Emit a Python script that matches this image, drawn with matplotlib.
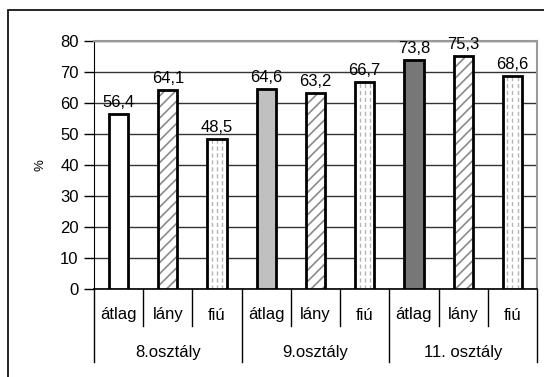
import numpy as np
import matplotlib
matplotlib.use('Agg')
import matplotlib.pyplot as plt
from matplotlib.patches import Rectangle
from matplotlib.lines import Line2D

plt.rcParams['font.family'] = ['Liberation Sans', 'DejaVu Sans']
plt.rcParams['font.size'] = 12
plt.rcParams['hatch.linewidth'] = 1.2

groups = ['8.osztály', '9.osztály', '11. osztály']
subcats = ['átlag', 'lány', 'fiú']
values = [56.4, 64.1, 48.5, 64.6, 63.2, 66.7, 73.8, 75.3, 68.6]
labels = ['56,4', '64,1', '48,5', '64,6', '63,2', '66,7', '73,8', '75,3', '68,6']
avg_colors = ['white', '#c0c0c0', '#777777']

W, H = 544, 377
fig = plt.figure(figsize=(W / 100, H / 100), dpi=100)
ax = fig.add_axes([94 / W, 1 - 289 / H, (537 - 94) / W, (289 - 41) / H])

n = len(values)
x = np.arange(n)
bw = 0.39
for i, v in enumerate(values):
    kind = i % 3
    if kind == 0:
        ax.bar(x[i], v, bw, color=avg_colors[i // 3], edgecolor='black', linewidth=2, zorder=3)
    elif kind == 1:
        ax.bar(x[i], v, bw, color='white', edgecolor='#8a8a8a', hatch='///', linewidth=0, zorder=3)
        ax.bar(x[i], v, bw, fill=False, edgecolor='black', linewidth=2, zorder=4)
    else:
        ax.bar(x[i], v, bw, color='white', linewidth=0, zorder=3)
        # dashed vertical fill pattern
        for off in (-0.27, 0.0, 0.27):
            ax.vlines(x[i] + off * bw, 0, v, colors='#b5b5b5', linestyles=(0, (3, 2)),
                      linewidth=1, zorder=3.5)
        ax.bar(x[i], v, bw, fill=False, edgecolor='black', linewidth=2, zorder=4)
    ax.text(x[i], v + 1.3, labels[i], ha='center', va='bottom', fontsize=12, zorder=5)

ax.set_xlim(-0.5, n - 0.5)
ax.set_ylim(0, 80)
ax.set_yticks(np.arange(0, 81, 10))
ax.tick_params(axis='y', direction='out', length=7, width=1, pad=4, labelsize=12)
ax.set_xticks([])
ax.yaxis.grid(True, color='#333333', linewidth=1)
ax.set_axisbelow(True)
ax.spines['left'].set_color('black')
ax.spines['bottom'].set_color('black')
ax.spines['bottom'].set_linewidth(1.2)
ax.spines['top'].set_color('#999999')
ax.spines['right'].set_color('#999999')
ax.spines['top'].set_linewidth(1.5)
ax.spines['right'].set_linewidth(1.5)
ax.set_ylabel('%', fontsize=9.5, labelpad=10)

# category axis: two-level labels with separators
trans = ax.get_xaxis_transform()
px = 1.0 / (289 - 41)
for i in range(n):
    ax.text(x[i], -26 * px, subcats[i % 3], ha='center', va='center', transform=trans, fontsize=12)
    if i % 3 != 0:
        ax.add_line(Line2D([i - 0.5, i - 0.5], [0, -37 * px], color='black', lw=1,
                           transform=trans, clip_on=False))
for g in range(len(groups)):
    ax.text(3 * g + 1, -63 * px, groups[g], ha='center', va='center', transform=trans, fontsize=12)
for b in range(len(groups) + 1):
    ax.add_line(Line2D([3 * b - 0.5, 3 * b - 0.5], [0, -73 * px], color='black', lw=1,
                       transform=trans, clip_on=False))

# outer chart frame
fig.add_artist(Rectangle((8 / W, -0.01), 1.0, 1 - 10 / H + 0.01, transform=fig.transFigure,
                         fill=False, edgecolor='black', linewidth=1.2))

fig.savefig('out.png', dpi=100)
